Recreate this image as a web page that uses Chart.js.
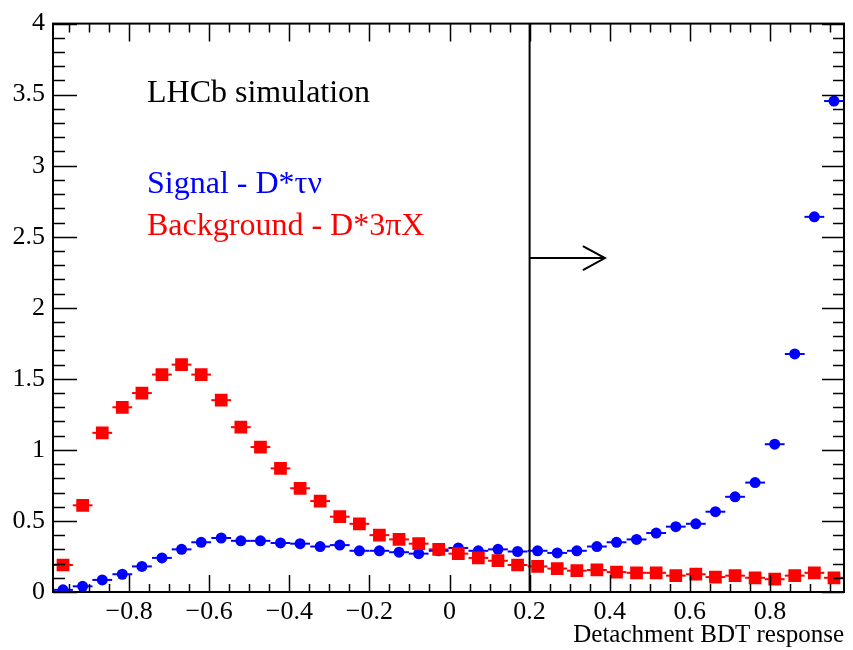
<!DOCTYPE html>
<html>
<head>
<meta charset="utf-8">
<script src="https://cdn.jsdelivr.net/npm/chart.js@4"></script>
<style>
    html, body { margin: 0; padding: 0; background: #fff; }
    #wrap { width: 853px; height: 650px; }
</style>
</head>
<body>
<div id="wrap"><canvas id="bdtChart" width="853" height="650"></canvas></div>
<script>
// Histogram range and bin centres of the detachment BDT response (40 bins)
const xMin = -0.99;
const xMax = 0.985;
const binCenters = [
    -0.965, -0.916, -0.867, -0.817, -0.768, -0.718, -0.669, -0.620, -0.570, -0.521,
    -0.472, -0.422, -0.373, -0.323, -0.274, -0.225, -0.175, -0.126, -0.077, -0.027,
     0.022,  0.072,  0.121,  0.170,  0.220,  0.269,  0.318,  0.368,  0.417,  0.467,
     0.516,  0.565,  0.615,  0.664,  0.713,  0.763,  0.812,  0.862,  0.911,  0.960
];
const binHalfWidth = 0.0247;

// Tick labels
const xTickValues = [-0.8, -0.6, -0.4, -0.2, 0, 0.2, 0.4, 0.6, 0.8];
const yTickValues = [0, 0.5, 1, 1.5, 2, 2.5, 3, 3.5, 4];

// Signal - D*tau nu
const signalValues = [
    0.015, 0.04, 0.085, 0.125, 0.18, 0.24, 0.30, 0.35, 0.38, 0.36,
    0.36, 0.345, 0.34, 0.32, 0.33, 0.29, 0.29, 0.28, 0.27, 0.29,
    0.31, 0.29, 0.30, 0.285, 0.29, 0.275, 0.29, 0.32, 0.35, 0.37,
    0.415, 0.46, 0.48, 0.565, 0.67, 0.77, 1.04, 1.675, 2.64, 3.455
];

// Background - D*3pi X
const backgroundValues = [
    0.19, 0.61, 1.12, 1.30, 1.40, 1.53, 1.60, 1.53, 1.35, 1.16,
    1.02, 0.87, 0.73, 0.64, 0.53, 0.48, 0.40, 0.37, 0.34, 0.30,
    0.27, 0.24, 0.22, 0.19, 0.18, 0.165, 0.15, 0.155, 0.14, 0.135,
    0.135, 0.115, 0.125, 0.105, 0.115, 0.10, 0.09, 0.115, 0.135, 0.10
];

// Cut position and arrow
const cutValue = 0.2;
const arrowY = 2.35;
const arrowEnd = 0.388;

const SERIF = '"Liberation Serif", "Times New Roman", serif';
const BLUE = '#0000ff';
const RED = '#ff0000';

function toPoints(values) {
    return binCenters.map((x, i) => ({ x: x, y: values[i] }));
}

function fmtTick(v) {
    if (Math.abs(v) < 1e-9) return '0';
    return String(v).replace('-', '\u2212');
}

// --- Plugin: frame, inward ticks on all sides (ROOT style) ---
const frameTicks = {
    id: 'frameTicks',
    afterDraw(chart) {
        const { ctx, chartArea: a, scales: { x, y } } = chart;
        ctx.save();
        ctx.strokeStyle = '#000';
        ctx.lineWidth = 1.5;
        // x ticks: minor every 0.05, major every 0.2
        for (let i = -19; i <= 19; i++) {
            const v = i * 0.05;
            const px = Math.round(x.getPixelForValue(v)) + 0.5;
            const major = i % 4 === 0;
            const lb = major ? 17 : 8;
            const lt = major ? 18 : 9;
            ctx.beginPath();
            ctx.moveTo(px, a.bottom); ctx.lineTo(px, a.bottom - lb);
            ctx.moveTo(px, a.top); ctx.lineTo(px, a.top + lt);
            ctx.stroke();
        }
        // y ticks: minor every 0.1, major every 0.5
        for (let i = 0; i <= 40; i++) {
            const v = i * 0.1;
            const py = Math.round(y.getPixelForValue(v)) + 0.5;
            const major = i % 5 === 0;
            const ll = major ? 24 : 12;
            const lr = major ? 22 : 11;
            ctx.beginPath();
            ctx.moveTo(a.left, py); ctx.lineTo(a.left + ll, py);
            ctx.moveTo(a.right, py); ctx.lineTo(a.right - lr, py);
            ctx.stroke();
        }
        // frame
        ctx.lineWidth = 2;
        ctx.strokeRect(a.left, a.top, a.right - a.left, a.bottom - a.top);
        ctx.restore();
    }
};

// --- Plugin: horizontal error bars (bin width) ---
const binBars = {
    id: 'binBars',
    beforeDatasetsDraw(chart) {
        const { ctx, scales: { x, y } } = chart;
        ctx.save();
        ctx.lineWidth = 2;
        chart.data.datasets.forEach(ds => {
            ctx.strokeStyle = ds.backgroundColor;
            ds.data.forEach(p => {
                const py = y.getPixelForValue(p.y);
                ctx.beginPath();
                ctx.moveTo(x.getPixelForValue(p.x - binHalfWidth), py);
                ctx.lineTo(x.getPixelForValue(p.x + binHalfWidth), py);
                ctx.stroke();
            });
        });
        ctx.restore();
    }
};

// --- Plugin: cut line, arrow and text labels ---
const annotations = {
    id: 'annotations',
    afterDatasetsDraw(chart) {
        const { ctx, scales: { x, y } } = chart;
        ctx.save();
        ctx.strokeStyle = '#000';
        ctx.lineWidth = 2;
        const cx = x.getPixelForValue(cutValue);
        ctx.beginPath();
        ctx.moveTo(cx, y.getPixelForValue(0));
        ctx.lineTo(cx, y.getPixelForValue(4));
        ctx.stroke();

        const ay = y.getPixelForValue(arrowY);
        const ax = x.getPixelForValue(arrowEnd);
        ctx.beginPath();
        ctx.moveTo(cx, ay); ctx.lineTo(ax, ay);
        ctx.moveTo(ax - 22, ay - 12); ctx.lineTo(ax, ay); ctx.lineTo(ax - 22, ay + 12);
        ctx.stroke();

        ctx.textBaseline = 'middle';
        ctx.textAlign = 'left';
        ctx.font = '32px ' + SERIF;
        ctx.fillStyle = '#000';
        ctx.fillText('LHCb simulation', 147, 94);
        ctx.fillStyle = BLUE;
        ctx.fillText('Signal - D*τν', 147, 185);
        ctx.fillStyle = RED;
        ctx.fillText('Background - D*3πX', 147, 227);
        ctx.restore();
    }
};

const ctx = document.getElementById('bdtChart').getContext('2d');
new Chart(ctx, {
    type: 'scatter',
    data: {
        datasets: [
            {
                label: 'Background - D*3πX',
                data: toPoints(backgroundValues),
                backgroundColor: RED,
                borderColor: RED,
                pointStyle: 'rect',
                pointRadius: 9,
                borderWidth: 0
            },
            {
                label: 'Signal - D*τν',
                data: toPoints(signalValues),
                backgroundColor: BLUE,
                borderColor: BLUE,
                pointStyle: 'circle',
                pointRadius: 5.5,
                borderWidth: 0
            }
        ]
    },
    options: {
        responsive: false,
        animation: false,
        layout: { padding: { top: 17, right: 6, left: 0, bottom: 0 } },
        plugins: {
            legend: { display: false },
            tooltip: { enabled: false }
        },
        scales: {
            x: {
                type: 'linear',
                min: xMin,
                max: xMax,
                afterFit: s => { s.height = 58; },
                afterBuildTicks: s => { s.ticks = xTickValues.map(v => ({ value: v })); },
                grid: { display: false, drawTicks: false, tickLength: 0 },
                border: { display: false },
                ticks: {
                    padding: 5,
                    maxRotation: 0,
                    autoSkip: false,
                    color: '#000',
                    font: { family: SERIF, size: 26 },
                    callback: v => fmtTick(v)
                },
                title: {
                    display: true,
                    text: 'Detachment BDT response',
                    align: 'end',
                    color: '#000',
                    font: { family: SERIF, size: 25 },
                    padding: { top: 0, bottom: 0 }
                }
            },
            y: {
                min: 0,
                max: 4,
                afterFit: s => { s.width = 53; },
                afterBuildTicks: s => { s.ticks = yTickValues.map(v => ({ value: v })); },
                grid: { display: false, drawTicks: false, tickLength: 0 },
                border: { display: false },
                ticks: {
                    padding: 8,
                    autoSkip: false,
                    color: '#000',
                    font: { family: SERIF, size: 26 },
                    callback: v => fmtTick(v)
                }
            }
        }
    },
    plugins: [frameTicks, binBars, annotations]
});
</script>
</body>
</html>
